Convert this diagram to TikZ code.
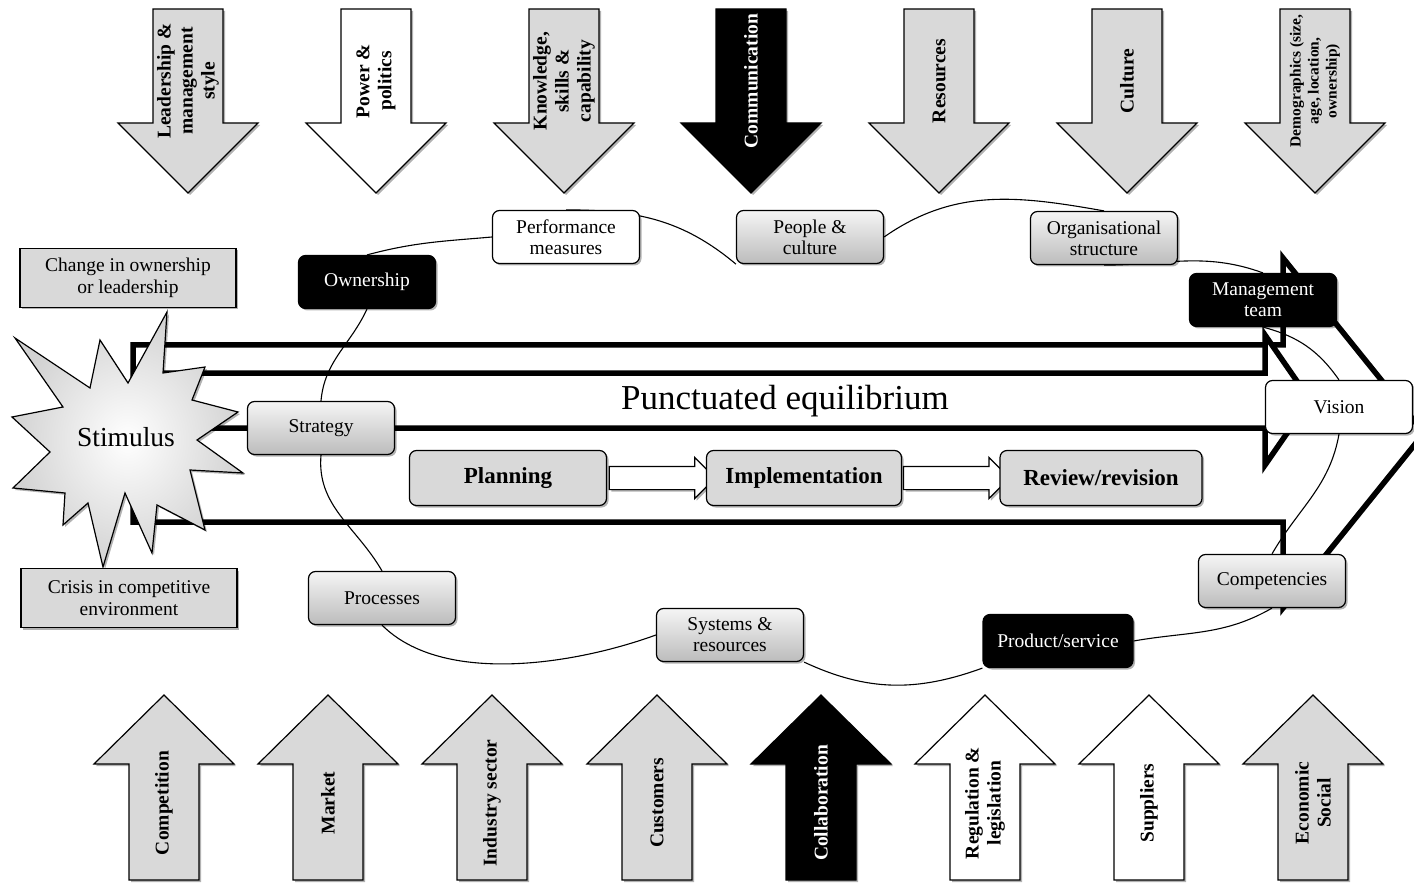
\documentclass[tikz,border=0pt]{standalone}
\usepackage{fontspec}
\setmainfont{Liberation Serif}
\usetikzlibrary{shapes.arrows,shadows}

\definecolor{boxgray}{RGB}{217,217,217}
\definecolor{shadetop}{RGB}{245,245,245}
\definecolor{shadebot}{RGB}{188,188,188}

\pgfdeclarelayer{bg}
\pgfdeclarelayer{mid}
\pgfsetlayers{bg,mid,main}

\tikzset{
  halo/.style={drop shadow={shadow xshift=2pt,shadow yshift=-2pt,fill=black,opacity=0.3}},
  box/.style={draw,line width=1.2pt,rounded corners=7pt,align=center,
    minimum width=147pt,minimum height=53pt,inner sep=2pt,
    font=\fontsize{19.5}{21}\selectfont,halo},
  greybox/.style={box,top color=shadetop,bottom color=shadebot},
  whitebox/.style={box,fill=white},
  blackbox/.style={box,fill=black,text=white},
  stepbox/.style={box,fill=boxgray,minimum width=197pt,minimum height=55pt,
    font=\fontsize{23}{26}\selectfont\bfseries},
  eventbox/.style={draw,line width=1.2pt,fill=boxgray,align=center,
    minimum width=216pt,minimum height=59pt,font=\fontsize{19.5}{22}\selectfont,halo},
  looplink/.style={line width=1.1pt},
  flowarrow/.style={single arrow,draw,fill=white,line width=1.2pt,minimum height=106pt,
    inner xsep=0pt,inner ysep=11pt,single arrow head extend=9pt,halo},
  bigarrow/.style={draw,fill=white,line width=5.5pt,halo},
  forcearrow/.style={draw,line width=1.2pt,halo},
  forcelabel/.style={rotate=90,align=center}
}

\begin{document}
\begin{tikzpicture}[x=1pt,y=-1pt]
\useasboundingbox (0,0) rectangle (1414,885);

\begin{pgfonlayer}{bg}
\path[bigarrow] (133,345) -- (1283,345) -- (1283,258) -- (1424,433) -- (1283,608) -- (1283,522) -- (133,522) -- cycle;
\path[bigarrow] (140,373) -- (1265,373) -- (1265,335) -- (1310,400) -- (1265,465) -- (1265,428) -- (140,428) -- cycle;
\end{pgfonlayer}

\foreach \x/\fc/\tc/\fs/\bs/\lbl [count=\i] in {188/boxgray/black/19.5/22/{Leadership \&\\management\\style},
  376/white/black/19.5/22/{Power \&\\politics},
  564/boxgray/black/19.5/22/{Knowledge,\\skills \&\\capability},
  751/black/white/19.5/22/{Communication},
  939/boxgray/black/19.5/22/{Resources},
  1127/boxgray/black/19.5/22/{Culture},
  1315/boxgray/black/15.5/18/{Demographics (size,\\age, location,\\ownership)}} {
  \filldraw[forcearrow,fill=\fc] (\x-35,9) -- (\x+35,9) -- (\x+35,123) -- (\x+70,123) -- (\x,193) -- (\x-70,123) -- (\x-35,123) -- cycle;
  \node[forcelabel,text=\tc,font=\fontsize{\fs}{\bs}\selectfont\bfseries] (top\i) at (\x,81) {\lbl};
}

\foreach \x/\fc/\tc/\lbl [count=\i] in {164/boxgray/black/{Competition},
  328/boxgray/black/{Market},
  492/boxgray/black/{Industry sector},
  657/boxgray/black/{Customers},
  821/black/white/{Collaboration},
  985/white/black/{Regulation \&\\legislation},
  1149/white/black/{Suppliers},
  1313/boxgray/black/{Economic\\Social}} {
  \filldraw[forcearrow,fill=\fc] (\x-35,880) -- (\x-35,764) -- (\x-70,764) -- (\x,695) -- (\x+70,764) -- (\x+35,764) -- (\x+35,880) -- cycle;
  \node[forcelabel,text=\tc,font=\fontsize{19.5}{22}\selectfont\bfseries] (bot\i) at (\x,803) {\lbl};
}

\shadedraw[line width=1.2pt,inner color=white,outer color=gray!35,halo] (167,312) -- (163,373) -- (205,367) -- (192,400) -- (238,412) -- (197,440) -- (243,473) -- (190,470) -- (205,530) -- (157,505) -- (152,553) -- (125,493) -- (103,567) -- (88,503) -- (63,525) -- (65,493) -- (13,488) -- (50,452) -- (12,417) -- (63,407) -- (15,338) -- (90,388) -- (100,340) -- (128,383) -- cycle;
\node[font=\fontsize{27.5}{30}\selectfont] (stim) at (126,437) {Stimulus};

\node[eventbox] (chg) at (128,278) {Change in ownership\\or leadership};
\node[eventbox] (cri) at (129,598) {Crisis in competitive\\environment};

\node[blackbox,minimum width=137pt] (own) at (367,282) {Ownership};
\node[whitebox] (perf) at (566,237) {Performance\\measures};
\node[greybox] (ppl) at (810,237) {People \&\\culture};
\node[greybox] (org) at (1104,238) {Organisational\\structure};
\node[blackbox] (mgmt) at (1263,300) {Management\\team};
\node[whitebox] (vis) at (1339,407) {Vision};
\node[greybox] (strat) at (321,428) {Strategy};
\node[greybox] (comp) at (1272,581) {Competencies};
\node[blackbox,minimum width=150pt] (prod) at (1058,641) {Product/service};
\node[greybox] (sys) at (730,635) {Systems \&\\resources};
\node[greybox] (proc) at (382,598) {Processes};

\node[font=\fontsize{35}{38}\selectfont] (pe) at (785,401) {Punctuated equilibrium};

\node[stepbox] (plan) at (508,478) {Planning};
\node[stepbox,minimum width=195pt] (impl) at (804,478) {Implementation};
\node[stepbox,minimum width=202pt] (rev) at (1101,478) {Review/revision};

\begin{pgfonlayer}{mid}
\path (plan.east) -- (impl.west) node[midway,flowarrow] (pi) {};
\path (impl.east) -- (rev.west) node[midway,flowarrow] (ir) {};
\draw[looplink] (strat.north) to[out=85,in=-115] (own.south);
\draw[looplink] (own.north) to[out=15,in=185] (perf.west);
\draw[looplink] (perf.north) to[out=0,in=140] (ppl.south west);
\draw[looplink] (ppl.east) to[out=35,in=170] (org.north);
\draw[looplink] (org.south) to[out=0,in=160] (mgmt.north);
\draw[looplink] (mgmt.south) to[out=-15,in=125] (vis.north);
\draw[looplink] (vis.south) to[out=-100,in=60] (comp.north);
\draw[looplink] (comp.south) to[out=-150,in=10] (prod.east);
\draw[looplink] (prod.south west) to[out=200,in=-25] (sys.south east);
\draw[looplink] (sys.west) to[out=200,in=-45,looseness=0.8] (proc.south);
\draw[looplink] (proc.north) to[out=120,in=-95] (strat.south);
\end{pgfonlayer}
\end{tikzpicture}
\end{document}
